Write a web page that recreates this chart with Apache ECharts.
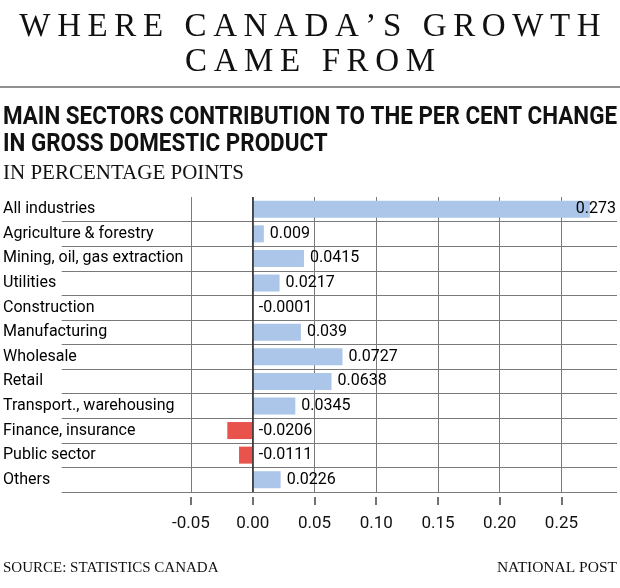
<!DOCTYPE html>
<html>
<head>
<meta charset="utf-8">
<script src="https://cdn.jsdelivr.net/npm/echarts@6/dist/echarts.min.js"></script>
<style>
html,body{margin:0;padding:0;background:#fff;}
#chart{width:620px;height:588px;}
</style>
</head>
<body>
<div id="chart"></div>
<script>
// ---- data ----
const categories = ['All industries','Agriculture & forestry','Mining, oil, gas extraction','Utilities','Construction','Manufacturing','Wholesale','Retail','Transport., warehousing','Finance, insurance','Public sector','Others'];
const values = [0.273, 0.009, 0.0415, 0.0217, -0.0001, 0.039, 0.0727, 0.0638, 0.0345, -0.0206, -0.0111, 0.0226];
const valueLabels = ['0.273','0.009','0.0415','0.0217','-0.0001','0.039','0.0727','0.0638','0.0345','-0.0206','-0.0111','0.0226'];
const tickLabels = ['-0.05','0.00','0.05','0.10','0.15','0.20','0.25'];

const titleLines = ['WHERE CANADA\u2019S GROWTH', 'CAME FROM'];
const subtitleLines = ['MAIN SECTORS CONTRIBUTION TO THE PER CENT CHANGE', 'IN GROSS DOMESTIC PRODUCT'];
const unitText = 'IN PERCENTAGE POINTS';
const sourceText = 'SOURCE: STATISTICS CANADA';
const creditText = 'NATIONAL POST';

// ---- helpers ----
const mctx = document.createElement('canvas').getContext('2d');
const subFamily = 'Roboto';
const subSize = 26.5;
mctx.font = 'bold ' + subSize + 'px "' + subFamily + '"';
const subScale = 614 / mctx.measureText(subtitleLines[0]).width;
const spaced = s => s.split('').join('\u2009');

const BLUE = '#abc6e9';
const RED = '#e8534b';

const chart = echarts.init(document.getElementById('chart'), null, {renderer:'canvas'});
const sansFont = 'Roboto, "Open Sans", sans-serif';
const serifFont = '"Liberation Serif", "DejaVu Serif", serif';

const data = values.map((v, i) => {
  const item = { value: v, itemStyle: { color: v < 0 ? RED : BLUE } };
  if (i === 0) item.label = { position: 'right', offset: [-20, 0] };
  return item;
});

const option = {
  animation: false,
  backgroundColor: '#fff',
  grid: { left: 191, right: 3, top: 197, bottom: 96, containLabel: false },
  xAxis: {
    type: 'value', min: -0.05, max: 0.295, interval: 0.05, offset: 5,
    axisLine: { show: false },
    axisTick: { show: true, length: 8, lineStyle: { color: '#444', width: 1.5 } },
    axisLabel: {
      fontSize: 17, color: '#111', fontFamily: sansFont, margin: 18,
      showMaxLabel: false,
      formatter: v => { const k = Math.round((v + 0.05) / 0.05); return (Math.abs(v - (-0.05 + k*0.05)) < 1e-9 && tickLabels[k]) ? tickLabels[k] : ''; }
    },
    splitLine: { show: true, showMaxLine: false, lineStyle: { color: '#7a7a7a', width: 1 } }
  },
  yAxis: {
    type: 'category', inverse: true, data: categories,
    axisLine: { show: false },
    axisTick: { show: true, length: 191, interval: (idx) => idx > 0, lineStyle: { color: '#7a7a7a', width: 1 } },
    splitLine: { show: true, interval: (idx) => idx > 0, lineStyle: { color: '#7a7a7a', width: 1 } },
    axisLabel: { margin: 188, align: 'left', fontSize: 16, color: '#000', fontFamily: sansFont }
  },
  series: [{
    type: 'bar', data: data, barWidth: 17,
    label: {
      show: true, position: 'right', distance: 6, fontSize: 16, color: '#000', fontFamily: sansFont,
      formatter: p => valueLabels[p.dataIndex]
    },
    markLine: {
      silent: true, symbol: 'none', label: { show: false },
      lineStyle: { color: '#333', width: 1.6, type: 'solid' },
      data: [{ xAxis: 0 }]
    }
  }],
  graphic: [
    { type: 'text', x: 310, y: 27, style: { text: spaced(titleLines[0]), font: '33px ' + serifFont, fill: '#111', align: 'center', verticalAlign: 'middle' } },
    { type: 'text', x: 310, y: 62, style: { text: spaced(titleLines[1]), font: '33px ' + serifFont, fill: '#111', align: 'center', verticalAlign: 'middle' } },
    { type: 'line', shape: { x1: 0, y1: 87, x2: 620, y2: 87 }, style: { stroke: '#222', lineWidth: 1.2 } },
    { type: 'text', x: 3, y: 117, scaleX: subScale, style: { text: subtitleLines[0], font: 'bold ' + subSize + 'px "' + subFamily + '"', fill: '#111', align: 'left', verticalAlign: 'middle' } },
    { type: 'text', x: 3, y: 144, scaleX: subScale, style: { text: subtitleLines[1], font: 'bold ' + subSize + 'px "' + subFamily + '"', fill: '#111', align: 'left', verticalAlign: 'middle' } },
    { type: 'text', x: 3, y: 173, style: { text: unitText, font: '21px ' + serifFont, fill: '#111', align: 'left', verticalAlign: 'middle' } },
    { type: 'text', x: 3, y: 568, style: { text: sourceText, font: '15px ' + serifFont, fill: '#111', align: 'left', verticalAlign: 'middle' } },
    { type: 'text', x: 617, y: 568, style: { text: creditText, font: '15.5px ' + serifFont, fill: '#111', align: 'right', verticalAlign: 'middle' } }
  ]
};
chart.setOption(option);
</script>
</body>
</html>
